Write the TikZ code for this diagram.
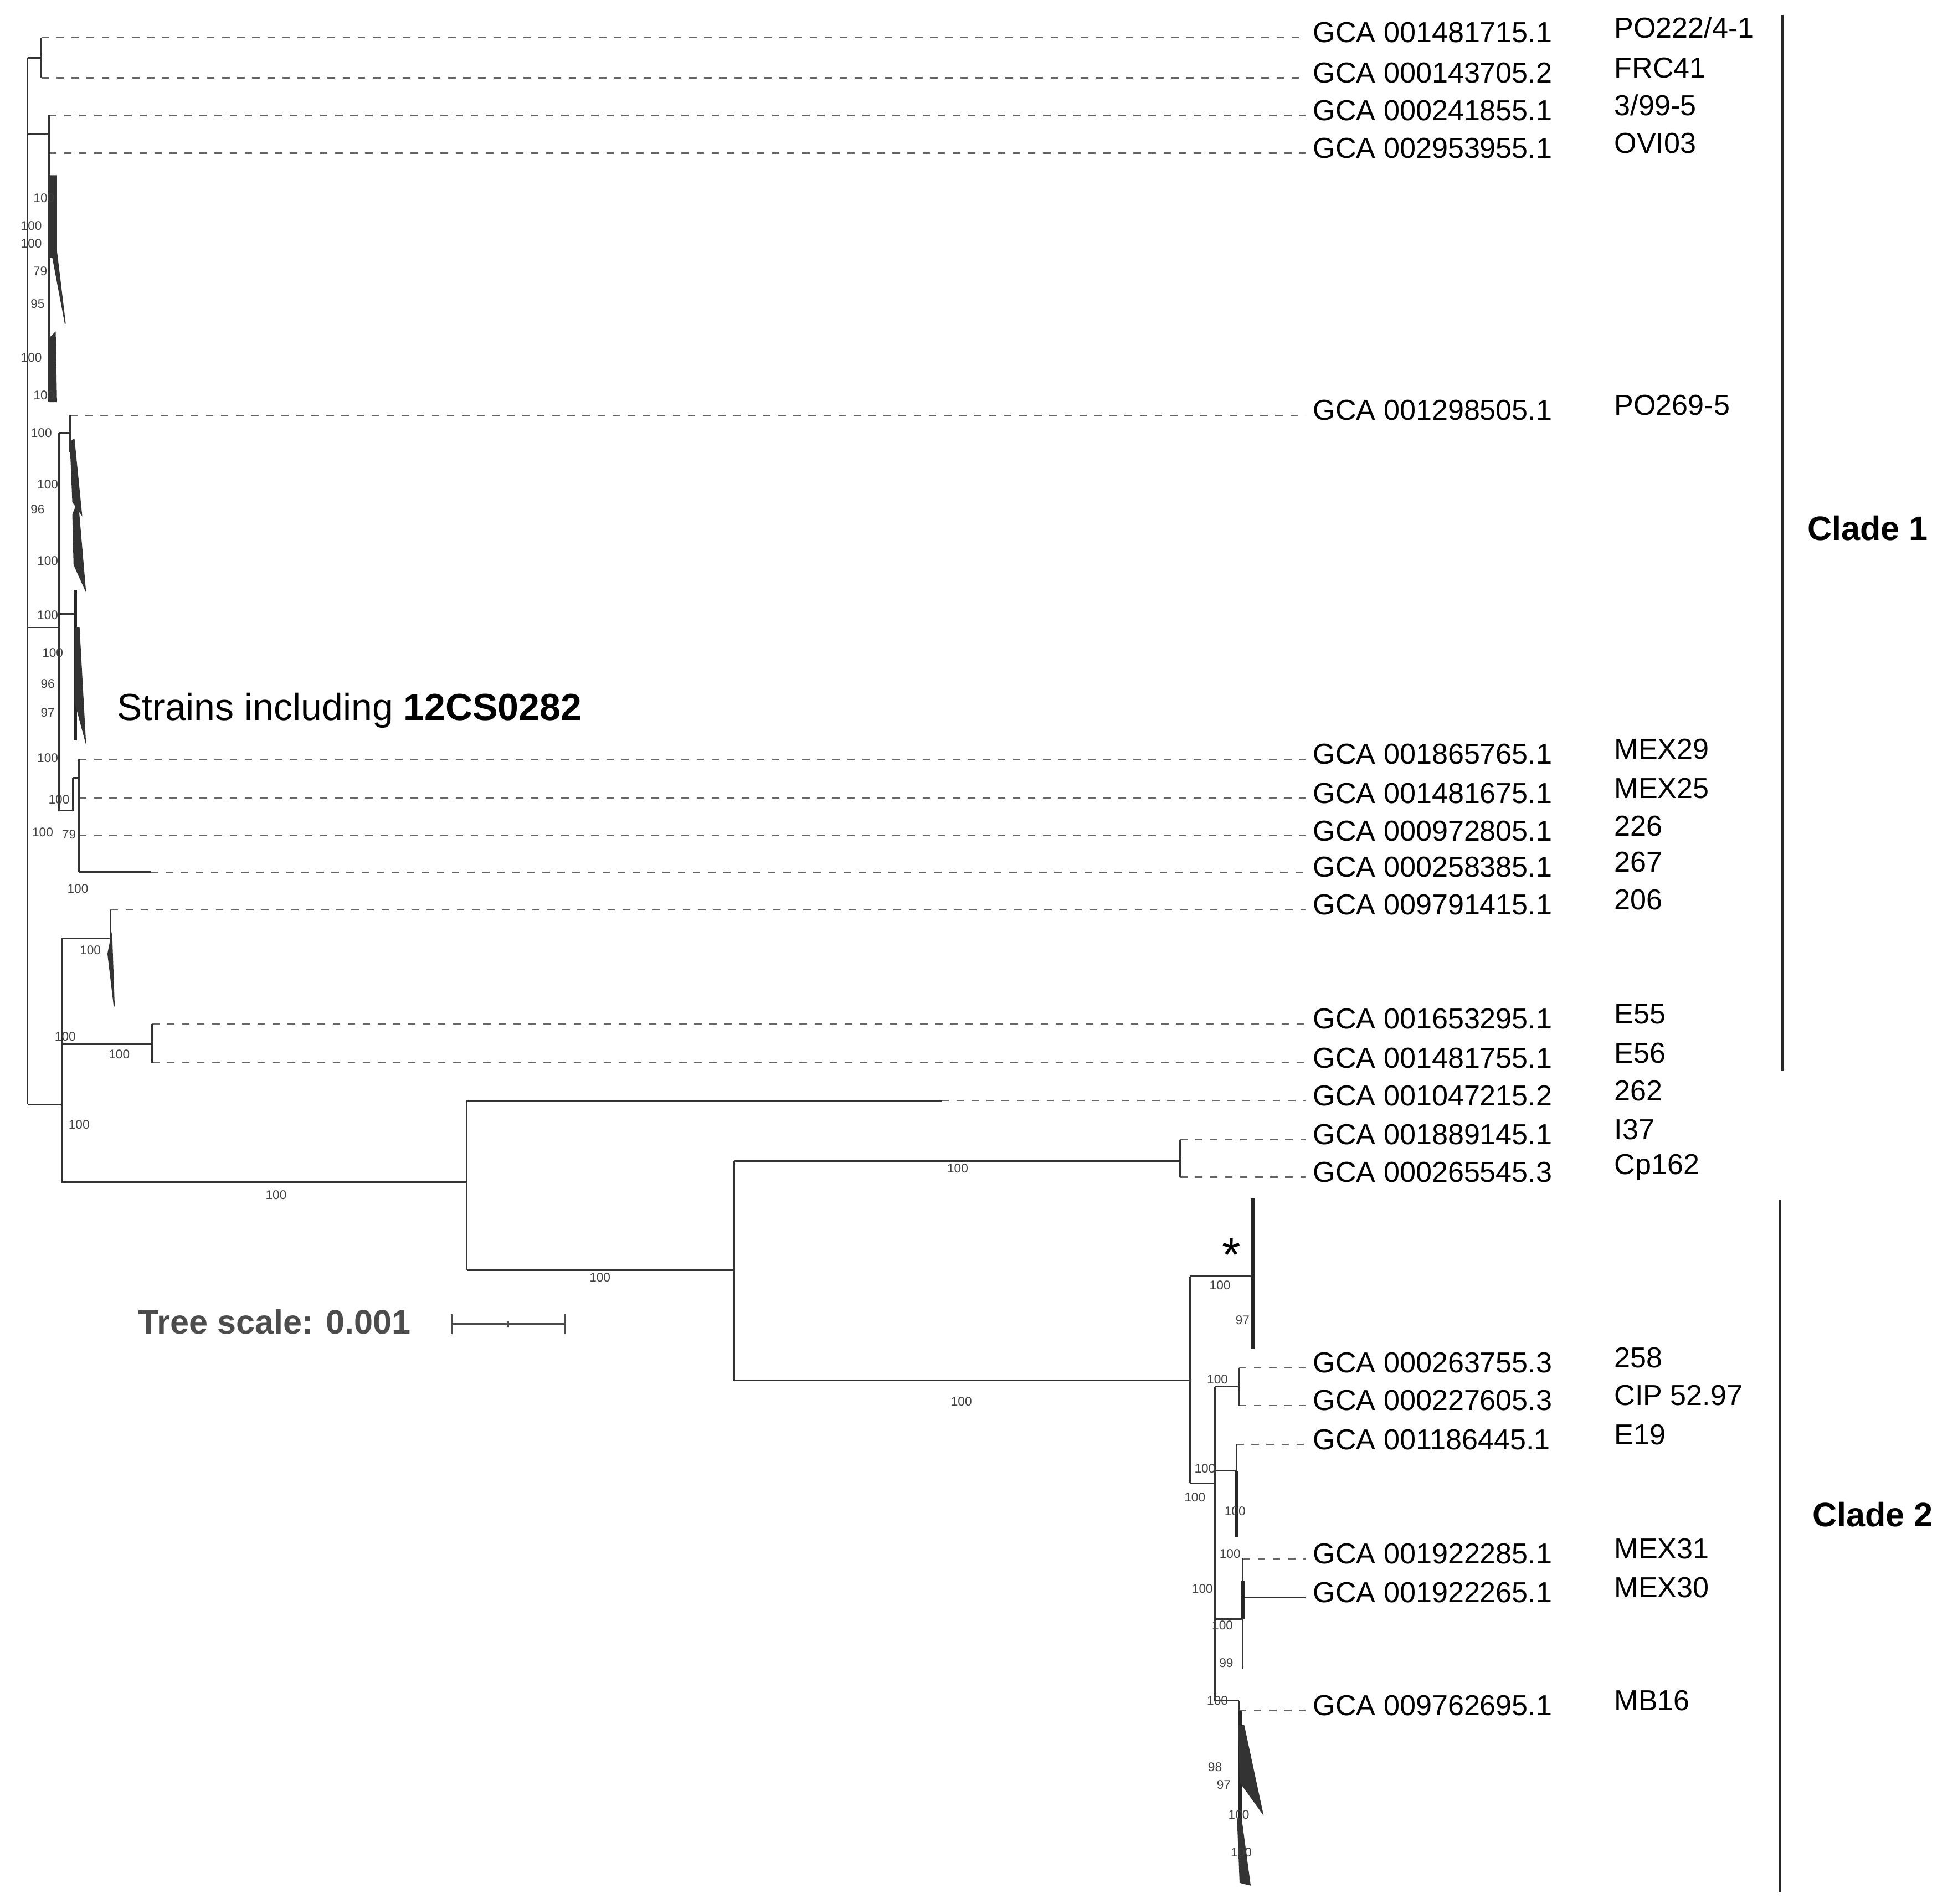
\documentclass[tikz,border=0pt]{standalone}
\usepackage{fontspec}
\setmainfont{Liberation Sans}
\begin{document}
\begin{tikzpicture}[x=1pt,y=-1pt,
  br/.style={draw=black!80,line width=1.3pt},
  dl/.style={draw=black!60,dashed,dash pattern=on 6pt off 6pt,line width=1pt},
  tri/.style={fill=black!80,draw=black!80,line width=0.8pt},
  thk/.style={draw=black!85,line width=3pt},
  gca/.style={anchor=west,inner sep=0pt,font=\fontsize{23}{26}\selectfont},
  bs/.style={inner sep=0pt,font=\fontsize{10}{11}\selectfont,text=black!75},
  bar/.style={draw=black!85,line width=2pt}]
\useasboundingbox (0,0) rectangle (1560,1517);
% leaves
\foreach \n/\y/\x/\g/\s in {a/30/33/001481715.1/PO222\slash 4-1,b/62/33/000143705.2/FRC41,c/92/39/000241855.1/3\slash 99-5,d/122/39/002953955.1/OVI03,e/331/56/001298505.1/PO269-5,f/605/63/001865765.1/MEX29,g/636/63/001481675.1/MEX25,h/666/63/000972805.1/226,j/725/88/009791415.1/206,k/816/121/001653295.1/E55,l/847/121/001481755.1/E56,m/908/940/001889145.1/I37,n/938/940/000265545.3/Cp162,o/1090/987/000263755.3/258,p/1120/987/000227605.3/CIP 52.97,q/1151/985/001186445.1/E19,r/1242/990/001922285.1/MEX31,s/1363/987/009762695.1/MB16}{
  \coordinate (s\n) at (\x,\y);
  \node[gca] (L\n) at (1046,\y-4) {GCA \g};
  \node[gca] (S\n) at (1286,\y-8) {\s};
  \draw[dl] (s\n) -- (1040,\y);
}
% solid-branch leaves
\foreach \n/\y/\x/\e/\g/\s in {i/695/63/120/000258385.1/267,t/877/372/750/001047215.2/262,u/1273/990/1040/001922265.1/MEX30}{
  \coordinate (s\n) at (\x,\y);
  \coordinate (e\n) at (\e,\y);
  \node[gca] (L\n) at (1046,\y-4) {GCA \g};
  \node[gca] (S\n) at (1286,\y-8) {\s};
  \draw[br] (s\n) -- (e\n);
  \draw[dl] (e\n) -- (1040,\y);
}
% left part
\draw[br] (22,46) -- (22,880);
\draw[br] (22,46) -- (33,46); \draw[br] (sa) -- (sb);
\draw[br] (22,107) -- (39,107); \draw[br] (sc) -- (39,320);
\draw[tri] (39,140) -- (45,140) -- (45,200) -- (52,258) -- (42,205) -- (39,205);
\draw[tri] (39,270) -- (44,265) -- (45,320) -- (39,320);
\draw[br] (22,500) -- (47,500); \draw[br] (47,345) -- (47,646);
\draw[br] (47,345) -- (56,345); \draw[br] (se) -- (56,360);
\draw[tri] (56,352) -- (59,350) -- (65,410) -- (58,400) -- cycle;
\draw[tri] (58,410) -- (62,400) -- (68,470) -- (59,450) -- cycle;
\draw[br] (47,489) -- (59,489); \draw[thk] (60,470) -- (60,590);
\draw[tri] (60,500) -- (63,500) -- (68,590) -- (60,560) -- cycle;
\draw[br] (47,646) -- (58,646); \draw[br] (58,620) -- (58,646);
\draw[br] (58,620) -- (63,620); \draw[br] (sf) -- (si);
\draw[br] (22,880) -- (49,880); \draw[br] (49,748) -- (49,942);
\draw[br] (49,748) -- (88,748); \draw[br] (sj) -- (88,760);
\draw[tri] (86,760) -- (89,745) -- (91,802) -- cycle;
\draw[br] (49,832) -- (121,832); \draw[br] (sk) -- (sl);
\draw[br] (49,942) -- (372,942);
% right part
\draw[br] (st) -- (372,1012);
\draw[br] (372,1012) -- (585,1012); \draw[br] (585,925) -- (585,1100);
\draw[br] (585,925) -- (940,925); \draw[br] (sm) -- (sn);
\draw[br] (585,1100) -- (948,1100); \draw[br] (948,1017) -- (948,1182);
\draw[br] (948,1017) -- (998,1017); \draw[thk] (998,955) -- (998,1075);
\node[inner sep=0pt,font=\fontsize{38}{38}\selectfont] (star) at (981,1000) {*};
\draw[br] (948,1182) -- (968,1182); \draw[br] (968,1105) -- (968,1355);
\draw[br] (968,1105) -- (987,1105); \draw[br] (so) -- (sp);
\draw[br] (968,1172) -- (985,1172); \draw[br] (sq) -- (985,1172); \draw[thk] (985,1172) -- (985,1225);
\draw[br] (968,1290) -- (990,1290); \draw[br] (sr) -- (990,1330); \draw[thk] (990,1260) -- (990,1290);
\draw[br] (968,1355) -- (987,1355); \draw[br] (987,1355) -- (ss);
\draw[thk] (988,1363) -- (988,1480);
\draw[tri] (987,1375) -- (991,1375) -- (1006,1445) -- (988,1420) -- cycle;
\draw[tri] (986,1450) -- (989,1450) -- (996,1502) -- (988,1500) -- cycle;
% bootstrap labels
\foreach \x/\y/\t [count=\i] in {35/158/100,25/180/100,25/194/100,32/216/79,30/242/95,25/285/100,35/315/100,33/345/100,38/386/100,30/406/96,38/447/100,38/490/100,42/520/100,38/545/96,38/568/97,38/604/100,47/637/100,34/663/100,55/665/79,62/708/100,72/757/100,52/826/100,95/840/100,63/896/100,220/952/100,478/1018/100,763/931/100,766/1117/100,972/1024/100,990/1052/97,970/1099/100,960/1170/100,952/1193/100,984/1204/100,980/1238/100,958/1266/100,974/1295/100,977/1325/99,970/1355/100,968/1408/98,975/1422/97,987/1446/100,989/1476/100}{
  \node[bs] (b\i) at (\x,\y) {\t};
}
% strains label
\node[anchor=west,inner sep=0pt,font=\fontsize{30}{32}\selectfont] (strains) at (93,566) {Strains including \textbf{12CS0282}};
% clades
\coordinate (c1t) at (1420,12); \coordinate (c1b) at (1420,853);
\draw[bar] (c1t) -- (c1b);
\coordinate (c2t) at (1418,956); \coordinate (c2b) at (1418,1508);
\draw[bar] (c2t) -- (c2b);
\node[font=\bfseries\fontsize{27}{28}\selectfont] (clade1) at (1488,421) {Clade 1};
\node[font=\bfseries\fontsize{27}{28}\selectfont] (clade2) at (1492,1207) {Clade 2};
% tree scale
\node[anchor=west,inner sep=0pt,text=black!70,font=\bfseries\fontsize{27}{28}\selectfont] (ts) at (110,1053) {Tree scale: 0.001};
\coordinate (sb1) at (360,1055); \coordinate (sb2) at (450,1055);
\draw[draw=black!70,line width=1.5pt] (sb1) -- (sb2);
\draw[draw=black!70,line width=1.5pt] (360,1047) -- (360,1063) (450,1047) -- (450,1063) (405,1053) -- (405,1058);
\end{tikzpicture}
\end{document}
